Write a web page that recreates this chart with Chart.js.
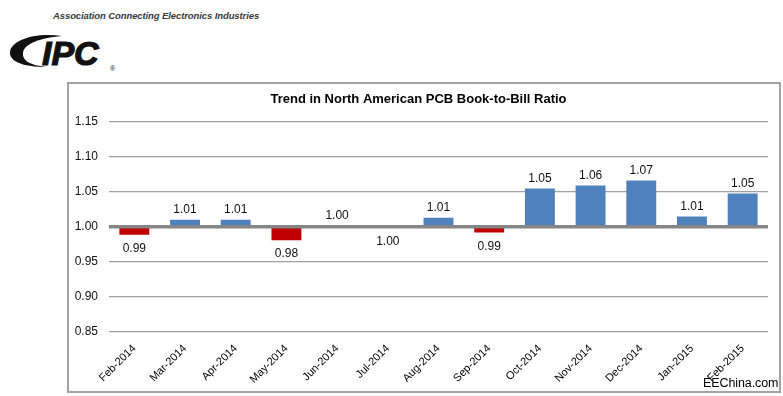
<!DOCTYPE html>
<html>
<head>
<meta charset="utf-8">
<script src="https://cdn.jsdelivr.net/npm/chart.js@4/dist/chart.umd.min.js"></script>
<style>
  html, body { margin: 0; padding: 0; background: #fff; }
  body { width: 783px; height: 396px; position: relative; overflow: hidden; font-family: Arial, "Liberation Sans", sans-serif; }
  .assoc { position: absolute; left: 53px; top: 10px; font-size: 9.5px; font-style: italic; font-weight: bold; color: #3a3a3a; letter-spacing: -0.1px; }
  .logo { position: absolute; left: 8px; top: 32px; width: 120px; height: 42px; }
  .box { position: absolute; left: 67px; top: 82px; width: 710px; height: 307px; border: 2px solid #a3a3a3; }
  .wm { position: absolute; left: 703px; top: 376px; font-size: 12.5px; letter-spacing: -0.1px; color: #000; font-family: Arial, "Liberation Sans", sans-serif; }
</style>
</head>
<body>
<div class="assoc">Association Connecting Electronics Industries</div>
<svg class="logo" viewBox="0 0 120 42">
  <path d="M54 4 C25 0 3 9 2 20 C1 30 17 35 38 35 C21 33 14 28 15 21 C16 12 31 6 54 4 Z" fill="#111"/>
  <text x="34" y="33" font-family="Arial, 'Liberation Sans', sans-serif" font-weight="900" font-style="italic" font-size="34" fill="#111" stroke="#111" stroke-width="1.2">IPC</text>
  <text x="102" y="39" font-family="Arial, sans-serif" font-size="7" fill="#111">®</text>
</svg>
<div class="box"><canvas id="grafico" width="710" height="307"></canvas></div>
<div class="wm">EEChina.com</div>
<script>
// dados do gráfico
const categories = ["Feb-2014", "Mar-2014", "Apr-2014", "May-2014", "Jun-2014", "Jul-2014", "Aug-2014",
                    "Sep-2014", "Oct-2014", "Nov-2014", "Dec-2014", "Jan-2015", "Feb-2015"];
const ratios = [0.9886, 1.010, 1.010, 0.981, 1.0015, 0.999, 1.013, 0.992, 1.0547, 1.059, 1.066, 1.0147, 1.0476];
const yMin = 0.85, yMax = 1.15, yStep = 0.05;

const BLUE = "#4f81bd", RED = "#c00000";

// linha base em 1.00 desenhada por cima das barras + rótulos de valor
const valueLabels = {
  id: "valueLabels",
  afterDatasetsDraw(chart) {
    const ctx = chart.ctx;
    const area = chart.chartArea;
    const y1 = chart.scales.y.getPixelForValue(1);
    ctx.save();
    ctx.strokeStyle = "#868686";
    ctx.lineWidth = 3.5;
    ctx.beginPath();
    ctx.moveTo(area.left, y1);
    ctx.lineTo(area.right, y1);
    ctx.stroke();

    const meta = chart.getDatasetMeta(0);
    ctx.font = "12px Arial, 'Liberation Sans', sans-serif";
    ctx.fillStyle = "#111";
    ctx.textAlign = "center";
    ctx.textBaseline = "middle";
    meta.data.forEach((bar, i) => {
      const v = ratios[i];
      const y = v >= 1 ? bar.y - 10 : bar.y + 14;
      ctx.fillText(v.toFixed(2), bar.x, y);
    });
    ctx.restore();
  }
};

new Chart(document.getElementById("grafico").getContext("2d"), {
  type: "bar",
  data: {
    labels: categories,
    datasets: [{
      data: ratios,
      base: 1,
      backgroundColor: ratios.map(v => v >= 1 ? BLUE : RED),
      barPercentage: 0.59,
      categoryPercentage: 1
    }]
  },
  options: {
    responsive: false,
    animation: false,
    layout: { padding: { left: 0, right: 11, top: 0, bottom: 0 } },
    plugins: {
      legend: { display: false },
      tooltip: { enabled: false },
      title: {
        display: true,
        text: "Trend in North American PCB Book-to-Bill Ratio",
        color: "#000",
        font: { family: "Arial, 'Liberation Sans', sans-serif", size: 13, weight: "bold" },
        padding: { top: 8, bottom: 14 }
      }
    },
    scales: {
      x: {
        grid: { display: false },
        border: { display: false },
        ticks: {
          color: "#000",
          minRotation: 45,
          maxRotation: 45,
          padding: 2,
          font: { family: "Arial, 'Liberation Sans', sans-serif", size: 11 }
        },
        afterFit(scale) { scale.height = 59; }
      },
      y: {
        min: yMin,
        max: yMax,
        border: { display: false },
        grid: {
          drawTicks: false,
          color: "#a0a0a0",
          lineWidth: 1.3
        },
        ticks: {
          stepSize: yStep,
          color: "#111",
          padding: 11,
          font: { family: "Arial, 'Liberation Sans', sans-serif", size: 12 },
          callback: v => Number(v).toFixed(2)
        },
        afterFit(scale) { scale.width = 40; }
      }
    }
  },
  plugins: [valueLabels]
});
</script>
</body>
</html>
